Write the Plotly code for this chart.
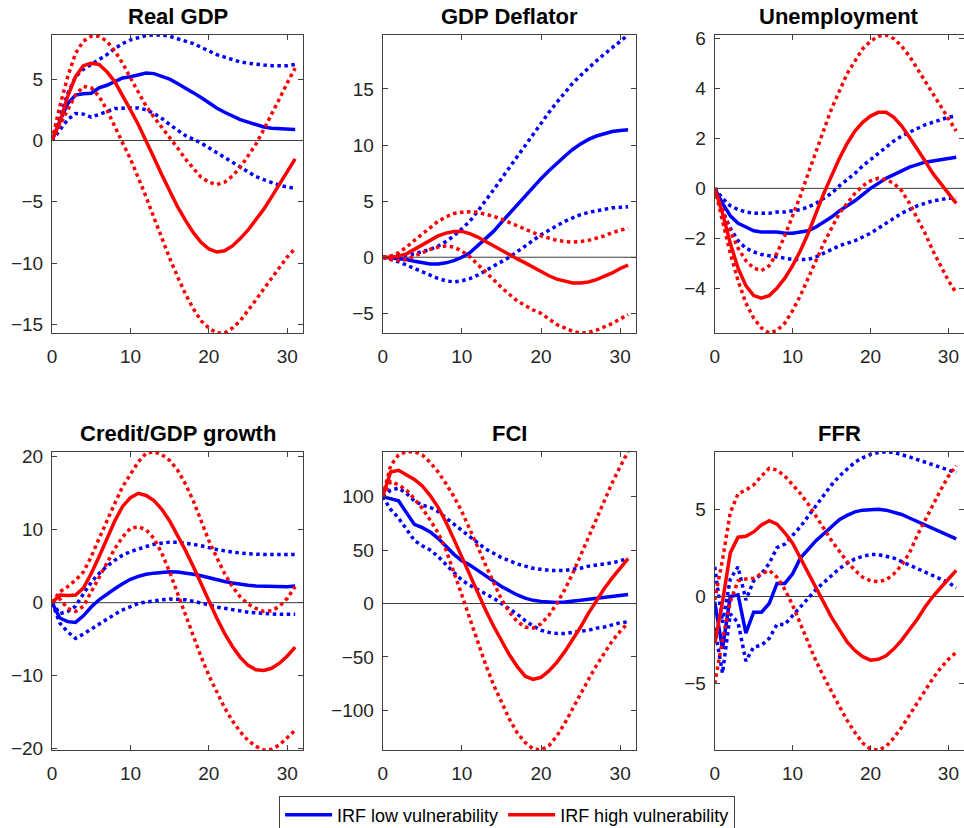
import plotly.graph_objects as go

horizon = list(range(32))

titles = ["Real GDP", "GDP Deflator", "Unemployment",
          "Credit/GDP growth", "FCI", "FFR"]

# ---------------- Real GDP ----------------
gdp_low = [0, 1.6, 3.0, 3.7, 3.8, 3.85, 4.3, 4.5, 4.8, 5.1, 5.2, 5.35, 5.5, 5.45, 5.25, 5.0,
           4.65, 4.3, 3.9, 3.5, 3.05, 2.65, 2.3, 2.0, 1.7, 1.5, 1.3, 1.1, 1.0, 0.95, 0.9, 0.9]
gdp_low_hi = [0, 2.0, 3.8, 5.2, 5.8, 6.2, 6.6, 7.0, 7.5, 7.9, 8.2, 8.4, 8.55, 8.6, 8.6, 8.5,
              8.3, 8.1, 7.9, 7.6, 7.3, 7.0, 6.8, 6.6, 6.4, 6.3, 6.2, 6.15, 6.1, 6.1, 6.1, 6.2]
gdp_low_lo = [0, 0.9, 1.7, 2.2, 2.15, 1.9, 2.1, 2.35, 2.6, 2.65, 2.65, 2.65, 2.5, 2.2, 1.8, 1.3,
              0.85, 0.4, 0.1, -0.2, -0.6, -1.0, -1.4, -1.8, -2.2, -2.6, -2.95, -3.2, -3.45, -3.65, -3.8, -3.9]
gdp_high = [0, 1.5, 3.6, 5.2, 6.1, 6.3, 6.2, 5.6, 4.8, 3.7, 2.5, 1.3, 0.0, -1.4, -2.8, -4.1,
            -5.4, -6.5, -7.5, -8.3, -8.85, -9.1, -9.0, -8.6, -8.0, -7.3, -6.5, -5.6, -4.6, -3.6, -2.5, -1.5]
gdp_high_hi = [0, 2.8, 5.2, 7.1, 8.1, 8.5, 8.5, 8.1, 7.3, 6.3, 5.1, 3.9, 2.8, 1.9, 1.1, 0.3,
               -0.6, -1.5, -2.3, -3.0, -3.4, -3.6, -3.4, -2.9, -2.2, -1.3, -0.3, 0.9, 2.1, 3.4, 4.7, 5.9]
gdp_high_lo = [0, 1.3, 2.5, 3.7, 4.4, 4.3, 3.6, 2.5, 1.1, -0.2, -1.5, -3.0, -4.6, -6.3, -8.0, -9.6,
               -11.1, -12.5, -13.7, -14.7, -15.3, -15.7, -15.7, -15.3, -14.7, -13.9, -13.0, -12.1, -11.2, -10.3, -9.5, -8.8]

# ---------------- GDP Deflator ----------------
defl_low = [0, -0.05, -0.1, -0.2, -0.35, -0.5, -0.6, -0.6, -0.5, -0.3, 0.0, 0.4, 1.0, 1.6, 2.3, 3.1,
            3.9, 4.6, 5.4, 6.2, 7.0, 7.7, 8.4, 9.0, 9.6, 10.1, 10.5, 10.8, 11.0, 11.2, 11.3, 11.35]
defl_low_hi = [0, 0.05, 0.1, 0.2, 0.3, 0.5, 0.7, 1.0, 1.4, 1.9, 2.5, 3.2, 4.1, 5.0, 6.0, 7.0,
               8.0, 9.0, 10.0, 11.0, 12.0, 12.9, 13.8, 14.7, 15.5, 16.2, 16.9, 17.5, 18.1, 18.7, 19.3, 19.8]
defl_low_lo = [0, -0.2, -0.4, -0.7, -1.0, -1.3, -1.6, -1.9, -2.1, -2.2, -2.1, -1.9, -1.6, -1.2, -0.8, -0.4,
               0.0, 0.5, 1.0, 1.5, 2.0, 2.4, 2.8, 3.2, 3.5, 3.8, 4.0, 4.15, 4.3, 4.4, 4.45, 4.5]
defl_high = [0, 0, 0.1, 0.3, 0.7, 1.1, 1.5, 1.9, 2.15, 2.3, 2.3, 2.1, 1.8, 1.4, 1.0, 0.6,
             0.2, -0.15, -0.5, -0.9, -1.3, -1.65, -1.95, -2.15, -2.3, -2.3, -2.2, -2.0, -1.7, -1.4, -1.0, -0.7]
defl_high_hi = [0, 0.1, 0.4, 0.9, 1.5, 2.1, 2.7, 3.2, 3.6, 3.9, 4.0, 4.05, 4.0, 3.85, 3.65, 3.4,
                3.1, 2.8, 2.5, 2.2, 1.9, 1.7, 1.5, 1.4, 1.35, 1.4, 1.5, 1.7, 1.9, 2.2, 2.4, 2.6]
defl_high_lo = [0, -0.2, -0.3, -0.2, 0.1, 0.4, 0.7, 0.9, 1.0, 0.9, 0.55, 0.05, -0.6, -1.3, -2.0, -2.7,
                -3.3, -3.9, -4.3, -4.7, -5.0, -5.5, -6.0, -6.3, -6.6, -6.75, -6.7, -6.5, -6.2, -5.9, -5.5, -5.1]

# ---------------- Unemployment ----------------
unemp_low = [0, -0.6, -1.1, -1.4, -1.55, -1.7, -1.75, -1.75, -1.75, -1.8, -1.8, -1.75, -1.7, -1.55, -1.35, -1.15,
             -0.9, -0.7, -0.5, -0.25, 0.0, 0.2, 0.4, 0.55, 0.7, 0.85, 0.95, 1.05, 1.1, 1.15, 1.2, 1.25]
unemp_low_hi = [0, -0.4, -0.7, -0.85, -0.95, -1.0, -1.0, -1.0, -0.95, -0.95, -0.9, -0.85, -0.75, -0.6, -0.4, -0.2,
                0.1, 0.35, 0.6, 0.9, 1.15, 1.4, 1.65, 1.9, 2.1, 2.25, 2.4, 2.55, 2.65, 2.75, 2.85, 2.9]
unemp_low_lo = [0, -0.9, -1.6, -2.1, -2.4, -2.55, -2.65, -2.7, -2.75, -2.8, -2.85, -2.85, -2.85, -2.75, -2.6, -2.45,
                -2.3, -2.2, -2.1, -1.95, -1.8, -1.6, -1.4, -1.2, -1.0, -0.85, -0.7, -0.6, -0.5, -0.45, -0.4, -0.4]
unemp_high = [0, -1.0, -2.2, -3.2, -3.9, -4.3, -4.4, -4.3, -4.0, -3.6, -3.1, -2.5, -1.8, -1.0, -0.2, 0.5,
              1.2, 1.8, 2.3, 2.65, 2.9, 3.05, 3.05, 2.85, 2.5, 2.05, 1.6, 1.1, 0.6, 0.2, -0.2, -0.6]
unemp_high_hi = [0, -0.9, -1.7, -2.4, -2.9, -3.2, -3.3, -3.1, -2.6, -1.9, -1.1, -0.3, 0.6, 1.5, 2.4, 3.2,
                 3.9, 4.6, 5.1, 5.6, 5.9, 6.1, 6.15, 6.0, 5.7, 5.3, 4.8, 4.3, 3.8, 3.3, 2.8, 2.3]
unemp_high_lo = [0, -1.3, -2.6, -3.7, -4.6, -5.2, -5.6, -5.8, -5.7, -5.4, -4.9, -4.3, -3.6, -2.9, -2.2, -1.6,
                 -1.0, -0.6, -0.2, 0.1, 0.3, 0.4, 0.35, 0.2, -0.1, -0.6, -1.2, -1.8, -2.5, -3.1, -3.7, -4.2]

# ---------------- Credit/GDP growth ----------------
credit_low = [0, -2.1, -2.6, -2.7, -1.8, -0.6, 0.4, 1.2, 1.9, 2.6, 3.2, 3.6, 3.9, 4.05, 4.2, 4.25,
              4.2, 4.1, 3.9, 3.7, 3.4, 3.1, 2.9, 2.7, 2.5, 2.4, 2.3, 2.25, 2.2, 2.2, 2.2, 2.3]
credit_low_hi = [0, -1.5, -1.2, -0.5, 1.2, 2.8, 4.0, 5.0, 5.8, 6.5, 7.0, 7.4, 7.7, 8.0, 8.2, 8.3,
                 8.3, 8.2, 8.0, 7.8, 7.5, 7.3, 7.1, 6.9, 6.8, 6.7, 6.6, 6.6, 6.6, 6.6, 6.6, 6.6]
credit_low_lo = [0, -2.8, -4.0, -4.9, -4.3, -3.6, -2.9, -2.2, -1.6, -1.0, -0.5, -0.1, 0.1, 0.3, 0.4, 0.5,
                 0.5, 0.4, 0.2, 0.0, -0.3, -0.6, -0.8, -1.0, -1.2, -1.3, -1.4, -1.5, -1.5, -1.6, -1.6, -1.6]
credit_high = [0, 1.05, 1.0, 1.05, 2.0, 4.0, 6.3, 8.9, 11.2, 13.2, 14.4, 15.0, 14.7, 14.0, 12.8, 11.2,
               9.3, 7.2, 5.0, 2.6, 0.2, -2.1, -4.2, -6.0, -7.5, -8.6, -9.2, -9.3, -9.0, -8.3, -7.3, -6.1]
credit_high_hi = [0, 1.5, 2.2, 3.1, 4.2, 6.3, 8.8, 11.3, 13.6, 15.9, 17.7, 19.3, 20.5, 20.7, 20.3, 19.5,
                  18.2, 16.3, 14.0, 11.3, 8.5, 6.2, 4.0, 2.2, 0.8, -0.2, -0.8, -1.2, -1.1, -0.5, 0.6, 2.2]
credit_high_lo = [0, 0.5, -0.8, -1.2, -0.5, 1.5, 3.6, 5.6, 7.4, 9.0, 10.2, 10.4, 10.0, 8.8, 6.8, 4.2,
                  1.3, -1.7, -4.6, -7.4, -10.0, -12.3, -14.4, -16.2, -17.7, -18.9, -19.7, -20.2, -20.1, -19.5, -18.5, -17.5]

# ---------------- FCI ----------------
fci_low = [100, 98, 96, 85, 74, 71, 67, 61, 53, 46, 40, 36, 31, 26, 21, 16,
           12, 8, 5, 3, 2, 1.5, 1, 1.5, 2, 3, 4, 5, 6, 7, 8, 8.5]
fci_low_hi = [100, 106, 108, 103, 96, 92, 90, 86, 80, 74, 68, 62, 56, 51, 47, 43,
              40, 37, 35, 33, 32, 31, 31, 31, 32, 33, 35, 36, 37, 38, 40, 42]
fci_low_lo = [100, 88, 80, 70, 59, 54, 50, 44, 36, 29, 22, 17, 13, 9, 5, 0,
              -5, -10, -16, -21, -25, -27, -28, -28, -27, -26, -25, -23, -22, -20, -18, -17]
fci_high = [100, 123, 124.6, 120, 116, 110, 101, 90, 76, 60, 43, 27, 10, -6, -21, -35,
            -48, -59, -68, -71, -69, -63, -55, -45, -34, -22, -9, 3, 14, 24, 33, 42]
fci_high_hi = [100, 129, 139, 142, 142, 139, 132, 123, 112, 100, 86, 70, 53, 36, 19, 4,
               -8, -17, -22, -23, -19, -11, 0, 13, 28, 45, 62, 79, 96, 113, 128, 142]
fci_high_lo = [100, 114, 111, 106, 98, 89, 78, 66, 50, 30, 8, -14, -36, -57, -76, -93,
               -108, -121, -130, -136, -137, -133, -124, -112, -98, -84, -71, -58, -46, -35, -26, -18]

# ---------------- FFR ----------------
ffr_low = [-0.3, -3.0, 0.0, 0.1, -2.1, -0.9, -0.9, -0.4, 0.75, 0.75, 1.3, 2.2, 2.7, 3.2, 3.6, 4.0,
           4.4, 4.65, 4.85, 4.95, 5.0, 5.0, 4.95, 4.85, 4.7, 4.5, 4.3, 4.1, 3.9, 3.7, 3.5, 3.3]
ffr_low_hi = [1.7, -1.5, 1.0, 1.7, -0.2, 0.9, 1.3, 1.9, 2.8, 3.0, 3.5, 4.0, 4.6, 5.2, 5.8, 6.4,
              6.9, 7.3, 7.7, 7.95, 8.15, 8.25, 8.3, 8.25, 8.15, 8.0, 7.85, 7.7, 7.5, 7.35, 7.2, 7.1]
ffr_low_lo = [-1.8, -4.4, -1.0, -1.5, -3.7, -2.9, -2.8, -2.4, -1.6, -1.6, -1.1, -0.6, -0.1, 0.4, 0.8, 1.2,
              1.6, 1.9, 2.15, 2.3, 2.4, 2.4, 2.3, 2.2, 2.0, 1.8, 1.6, 1.4, 1.2, 1.0, 0.8, 0.5]
ffr_high = [-2.7, -0.3, 2.5, 3.4, 3.45, 3.7, 4.1, 4.35, 4.15, 3.65, 3.05, 2.2, 1.3, 0.4, -0.4, -1.2,
            -1.9, -2.6, -3.1, -3.45, -3.65, -3.6, -3.4, -3.0, -2.5, -1.9, -1.3, -0.6, 0.0, 0.5, 1.0, 1.5]
ffr_high_hi = [-0.2, 2.1, 4.8, 5.9, 6.1, 6.4, 6.9, 7.35, 7.25, 6.9, 6.4, 5.9, 5.3, 4.6, 3.9, 3.2,
               2.6, 2.0, 1.5, 1.1, 0.9, 0.85, 0.95, 1.3, 1.8, 2.5, 3.5, 4.4, 5.3, 6.1, 6.9, 7.5]
ffr_high_lo = [-5.0, -2.5, -0.3, 0.9, 1.0, 1.05, 1.3, 1.5, 1.1, 0.4, -0.5, -1.6, -2.7, -3.7, -4.6, -5.5,
               -6.3, -7.1, -7.8, -8.4, -8.75, -8.8, -8.6, -8.1, -7.5, -6.8, -6.1, -5.4, -4.7, -4.1, -3.6, -3.2]

x_ticks = [0, 10, 20, 30]
y_ticks = [
    [-15, -10, -5, 0, 5],
    [-5, 0, 5, 10, 15],
    [-4, -2, 0, 2, 4, 6],
    [-20, -10, 0, 10, 20],
    [-100, -50, 0, 50, 100],
    [-5, 0, 5],
]

panels = [
    (gdp_low, gdp_low_hi, gdp_low_lo, gdp_high, gdp_high_hi, gdp_high_lo),
    (defl_low, defl_low_hi, defl_low_lo, defl_high, defl_high_hi, defl_high_lo),
    (unemp_low, unemp_low_hi, unemp_low_lo, unemp_high, unemp_high_hi, unemp_high_lo),
    (credit_low, credit_low_hi, credit_low_lo, credit_high, credit_high_hi, credit_high_lo),
    (fci_low, fci_low_hi, fci_low_lo, fci_high, fci_high_hi, fci_high_lo),
    (ffr_low, ffr_low_hi, ffr_low_lo, ffr_high, ffr_high_hi, ffr_high_lo),
]

BLUE = "#0000FF"
RED = "#FF0000"
AXC = "#404040"
FONT = "Liberation Sans, Arial, sans-serif"

W, H = 964, 828
col_px = [(52, 303), (382.7, 636), (714.7, 964)]
row_px = [(35, 333), (451.7, 750)]

fig = go.Figure()
layout = {}
annotations = []
shapes = []

for i, (title, data) in enumerate(zip(titles, panels)):
    r, c = divmod(i, 3)
    suffix = "" if i == 0 else str(i + 1)
    xa, ya = "x" + suffix, "y" + suffix
    low, low_hi, low_lo, high, high_hi, high_lo = data
    specs = [
        (low, BLUE, "solid", "IRF low vulnerability", i == 0),
        (low_hi, BLUE, "dot", None, False),
        (low_lo, BLUE, "dot", None, False),
        (high, RED, "solid", "IRF high vulnerability", i == 0),
        (high_hi, RED, "dot", None, False),
        (high_lo, RED, "dot", None, False),
    ]
    for ser, color, dash, name, show in specs:
        fig.add_trace(go.Scatter(
            x=horizon, y=ser, mode="lines", xaxis=xa, yaxis=ya,
            line=dict(color=color, width=3.5, dash=dash),
            name=name if name else "", showlegend=show, hoverinfo="skip"))

    allv = [v for s in data for v in s]
    ymin, ymax = min(allv), max(allv)

    x0, x1 = col_px[c]
    y0, y1 = row_px[r]
    xdom = [x0 / W, x1 / W]
    ydom = [1 - y1 / H, 1 - y0 / H]

    common = dict(showline=True, linecolor=AXC, linewidth=1, mirror="ticks",
                  ticks="inside", ticklen=5, tickcolor=AXC, showgrid=False,
                  zeroline=False, tickfont=dict(size=19, color="#262626", family=FONT))
    layout["xaxis" + suffix] = dict(domain=xdom, anchor=ya, range=[0, 32],
                                    tickvals=x_ticks, ticklabelstandoff=6, **common)
    layout["yaxis" + suffix] = dict(domain=ydom, anchor=xa, range=[ymin, ymax],
                                    tickvals=y_ticks[i], ticklabelstandoff=4, **common)

    shapes.append(dict(type="line", xref=xa + " domain", yref=ya, x0=0, x1=1, y0=0, y1=0,
                       line=dict(color="rgb(60,60,60)", width=1), layer="below"))

    annotations.append(dict(text="<b>" + title + "</b>", xref="paper", yref="paper",
                            x=(xdom[0] + xdom[1]) / 2, y=ydom[1] + 18 / H,
                            xanchor="center", yanchor="middle", showarrow=False,
                            font=dict(size=22, color="black", family=FONT)))

fig.update_layout(
    width=W, height=H,
    margin=dict(l=0, r=0, t=0, b=0, autoexpand=False),
    paper_bgcolor="white", plot_bgcolor="white",
    font=dict(family=FONT, size=18, color="#262626"),
    annotations=annotations, shapes=shapes,
    legend=dict(orientation="h", x=0.526, xanchor="center", y=-0.008, yanchor="bottom",
                bordercolor=AXC, borderwidth=1, bgcolor="white", itemwidth=47,
                font=dict(size=18, color="black", family=FONT)),
    **layout,
)

fig.write_html("out.html")
